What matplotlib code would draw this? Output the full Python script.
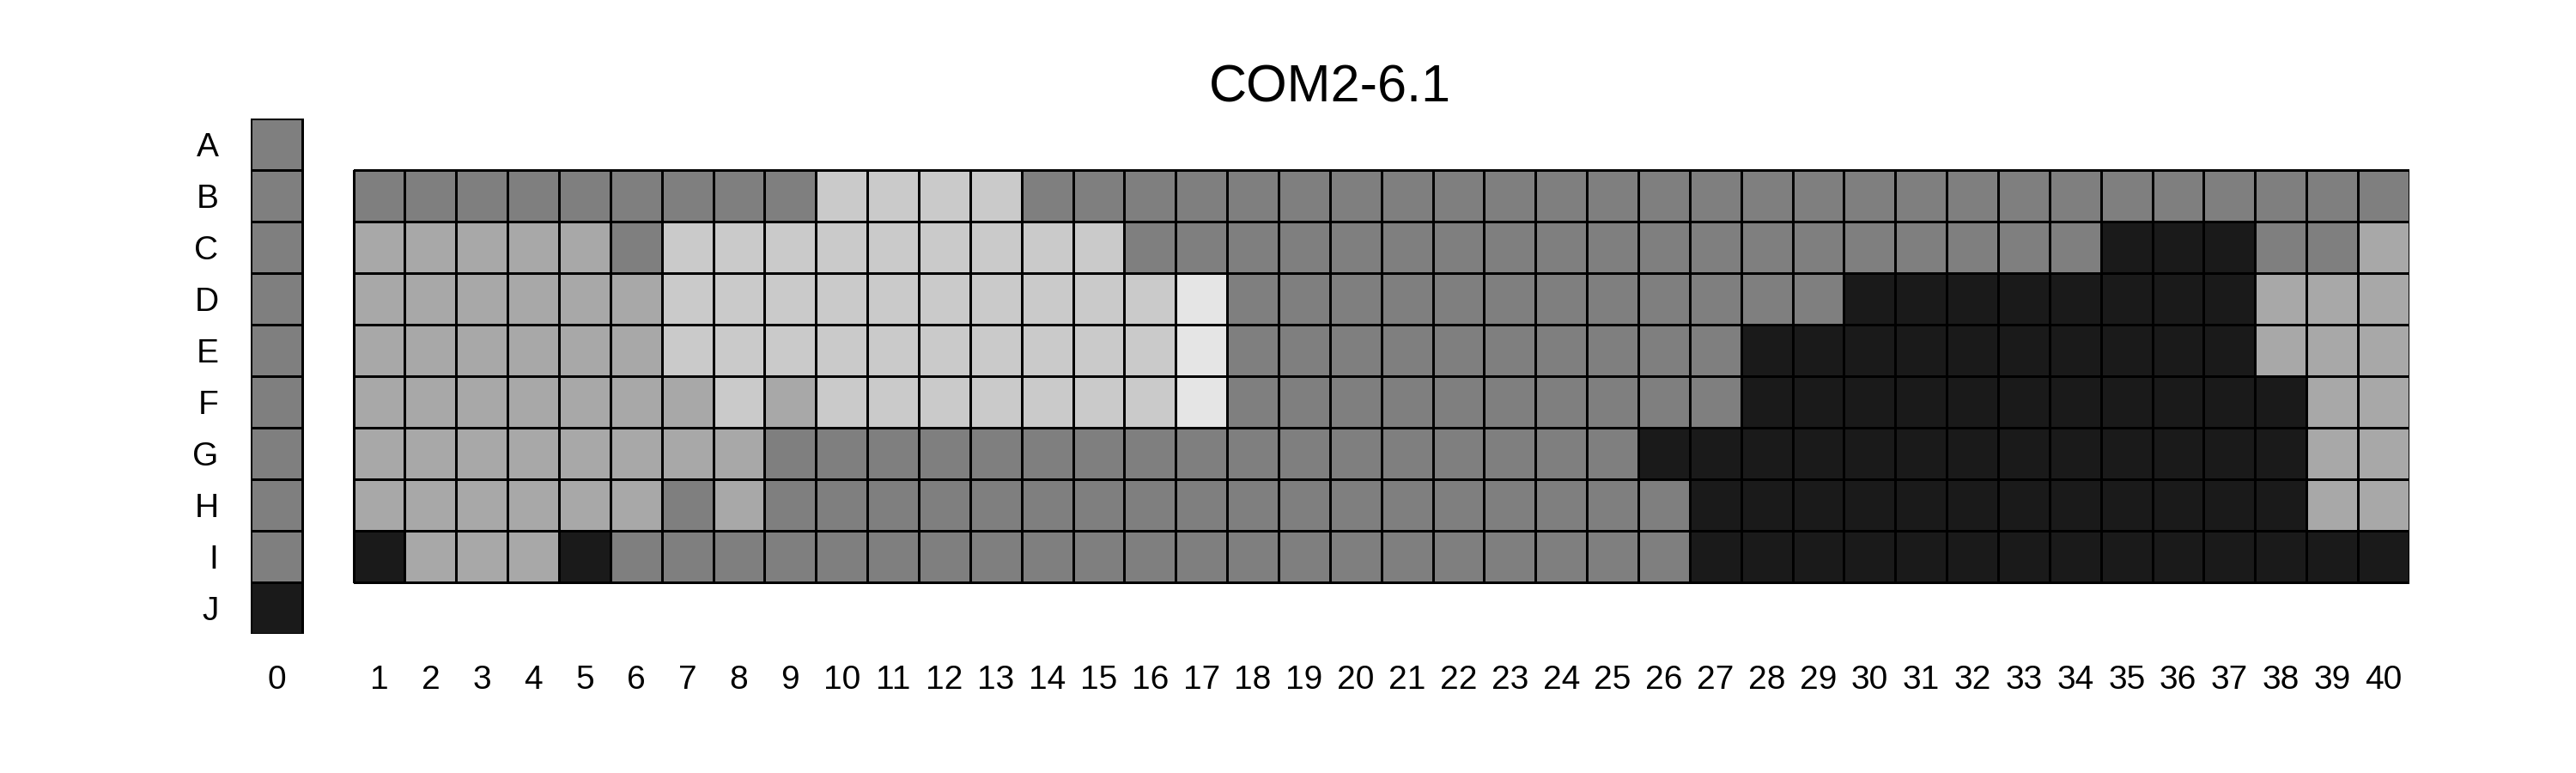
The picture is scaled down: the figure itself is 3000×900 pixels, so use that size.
import numpy as np
import matplotlib
matplotlib.use('Agg')
import matplotlib.pyplot as plt
from matplotlib.colors import ListedColormap, BoundaryNorm

plt.rcParams['font.family'] = ['Liberation Sans', 'DejaVu Sans']

title = 'COM2-6.1'
row_labels = ['A', 'B', 'C', 'D', 'E', 'F', 'G', 'H', 'I', 'J']
col_labels = [str(i) for i in range(41)]

# grey level of each cell: 0 = darkest ... 4 = lightest
col0 = [1, 1, 1, 1, 1, 1, 1, 1, 1, 0]          # rows A..J
row_B = [1, 1, 1, 1, 1, 1, 1, 1, 1, 3, 3, 3, 3, 1, 1, 1, 1, 1, 1, 1,
         1, 1, 1, 1, 1, 1, 1, 1, 1, 1, 1, 1, 1, 1, 1, 1, 1, 1, 1, 1]
row_C = [2, 2, 2, 2, 2, 1, 3, 3, 3, 3, 3, 3, 3, 3, 3, 1, 1, 1, 1, 1,
         1, 1, 1, 1, 1, 1, 1, 1, 1, 1, 1, 1, 1, 1, 0, 0, 0, 1, 1, 2]
row_D = [2, 2, 2, 2, 2, 2, 3, 3, 3, 3, 3, 3, 3, 3, 3, 3, 4, 1, 1, 1,
         1, 1, 1, 1, 1, 1, 1, 1, 1, 0, 0, 0, 0, 0, 0, 0, 0, 2, 2, 2]
row_E = [2, 2, 2, 2, 2, 2, 3, 3, 3, 3, 3, 3, 3, 3, 3, 3, 4, 1, 1, 1,
         1, 1, 1, 1, 1, 1, 1, 0, 0, 0, 0, 0, 0, 0, 0, 0, 0, 2, 2, 2]
row_F = [2, 2, 2, 2, 2, 2, 2, 3, 2, 3, 3, 3, 3, 3, 3, 3, 4, 1, 1, 1,
         1, 1, 1, 1, 1, 1, 1, 0, 0, 0, 0, 0, 0, 0, 0, 0, 0, 0, 2, 2]
row_G = [2, 2, 2, 2, 2, 2, 2, 2, 1, 1, 1, 1, 1, 1, 1, 1, 1, 1, 1, 1,
         1, 1, 1, 1, 1, 0, 0, 0, 0, 0, 0, 0, 0, 0, 0, 0, 0, 0, 2, 2]
row_H = [2, 2, 2, 2, 2, 2, 1, 2, 1, 1, 1, 1, 1, 1, 1, 1, 1, 1, 1, 1,
         1, 1, 1, 1, 1, 1, 0, 0, 0, 0, 0, 0, 0, 0, 0, 0, 0, 0, 2, 2]
row_I = [0, 2, 2, 2, 0, 1, 1, 1, 1, 1, 1, 1, 1, 1, 1, 1, 1, 1, 1, 1,
         1, 1, 1, 1, 1, 1, 0, 0, 0, 0, 0, 0, 0, 0, 0, 0, 0, 0, 0, 0]

grey_colors = ['#1a1a1a', '#7f7f7f', '#a8a8a8', '#cacaca', '#e5e5e5']

main = np.array([row_B, row_C, row_D, row_E, row_F, row_G, row_H, row_I])
left = np.array(col0).reshape(-1, 1)

cmap = ListedColormap(grey_colors)
norm = BoundaryNorm(np.arange(-0.5, 5.5, 1), cmap.N)

fig = plt.figure(figsize=(30, 9), dpi=100)
ax = fig.add_axes([0.0973, 0.18, 0.838, 0.6667])

# column 0 sits at x=0 (rows A..J); columns 1..40 at x=2..41 (rows B..I)
ax.pcolormesh([-0.5, 0.5], np.arange(-0.5, 10.5, 1), left, cmap=cmap, norm=norm,
              edgecolors='black', linewidth=0.8)
ax.pcolormesh(np.arange(1.5, 42.5, 1), np.arange(0.5, 9.5, 1), main, cmap=cmap, norm=norm,
              edgecolors='black', linewidth=0.8)

ax.set_xlim(-0.5, 41.5)
ax.set_ylim(9.5, -0.5)

xpos = [0] + list(range(2, 42))
ax.set_xticks(xpos)
ax.set_xticklabels(col_labels, fontsize=28)
ax.set_yticks(range(len(row_labels)))
ax.set_yticklabels(row_labels, fontsize=28)
ax.tick_params(length=0)
ax.tick_params(axis='x', pad=26)
ax.tick_params(axis='y', pad=27)
for s in ax.spines.values():
    s.set_visible(False)

ax.set_title(title, fontsize=44, pad=14)

plt.savefig('out.png', dpi=100)
plt.close()
